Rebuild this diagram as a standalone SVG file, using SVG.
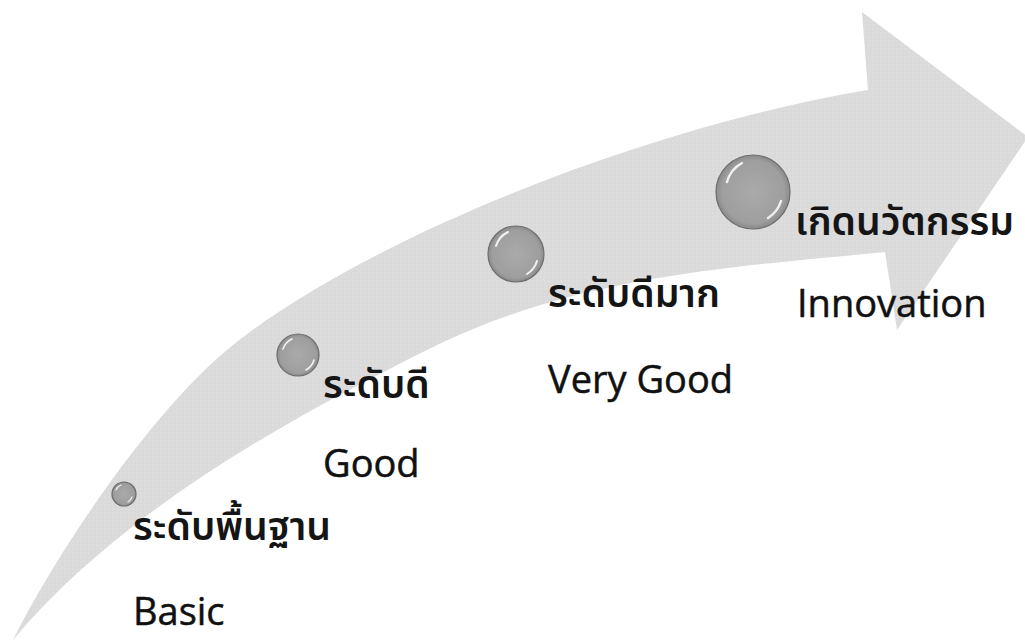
<svg xmlns="http://www.w3.org/2000/svg" width="1025" height="642" viewBox="0 0 1025 642">
<style>
.th{font-family:"Noto Sans Thai","Noto Sans","DejaVu Sans",sans-serif;font-size:39px;font-weight:600;fill:#151515;}
.en{font-family:"Open Sans","Noto Sans",sans-serif;font-size:38px;fill:#111;stroke:#111;stroke-width:0.5;}
.ball{fill:url(#ballGrad);stroke:#6e6e6e;stroke-width:1.2;}
.hl{fill:none;stroke:#fff;stroke-opacity:0.85;stroke-linecap:round;}
</style>
<defs>
<radialGradient id="ballGrad" cx="0.5" cy="0.5" r="0.5">
<stop offset="0" stop-color="#aaaaaa"/>
<stop offset="0.85" stop-color="#9e9e9e"/>
<stop offset="1" stop-color="#8a8a8a"/>
</radialGradient>
<pattern id="dots" width="4" height="4" patternUnits="userSpaceOnUse">
<rect width="4" height="4" fill="#dadada"/>
<circle cx="1" cy="1" r="0.6" fill="#ebebeb"/>
</pattern>
</defs>
<rect width="1025" height="642" fill="#fff"/>
<g id="arrow">
<path d="M13,640 C58,550 153,409 233,345 C363,241 640,128 868,90 L862,12 L1028,137 L897,330 L885,252 C735,267 577,275 427,350 C297,415 123,508 13,640 Z" fill="url(#dots)"/>
</g>
<g id="node-basic">
<circle class="ball" cx="124" cy="494" r="12"/>
<path class="hl" stroke-width="1.2" d="M116,490 A9,9 0 0 1 121,485"/>
<path class="hl" stroke-width="1.2" d="M132,497 A9,9 0 0 1 128,502"/>
<text class="th" x="133" y="540">ระดับพื้นฐาน</text>
<text class="en" x="133" y="625">Basic</text>
</g>
<g id="node-good">
<circle class="ball" cx="298" cy="355" r="21"/>
<path class="hl" stroke-width="1.6" d="M283,349 A17,17 0 0 1 292,339"/>
<path class="hl" stroke-width="1.6" d="M314,360 A17,17 0 0 1 306,370"/>
<text class="th" x="323" y="398">ระดับดี</text>
<text class="en" x="323" y="477">Good</text>
</g>
<g id="node-verygood">
<circle class="ball" cx="516" cy="254" r="28"/>
<path class="hl" stroke-width="2" d="M496,246 A23,23 0 0 1 508,232"/>
<path class="hl" stroke-width="2" d="M537,261 A23,23 0 0 1 527,274"/>
<text class="th" x="548" y="307">ระดับดีมาก</text>
<text class="en" x="548" y="393">Very Good</text>
</g>
<g id="node-innovation">
<circle class="ball" cx="753" cy="192" r="37"/>
<path class="hl" stroke-width="2.4" d="M727,182 A31,31 0 0 1 742,163"/>
<path class="hl" stroke-width="2.4" d="M781,201 A31,31 0 0 1 768,218"/>
<text class="th" x="795" y="235">เกิดนวัตกรรม</text>
<text class="en" x="797" y="317">Innovation</text>
</g>
</svg>
